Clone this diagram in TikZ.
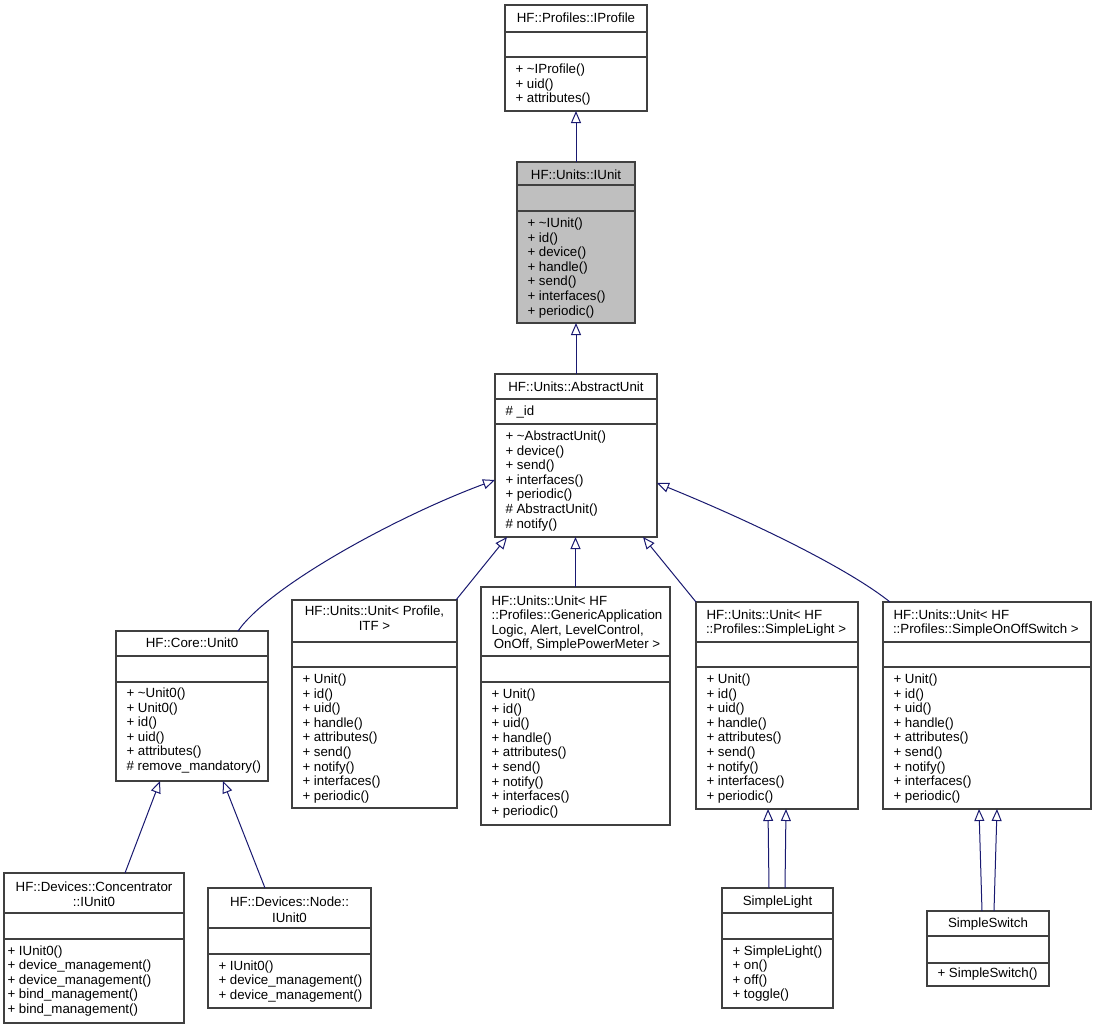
\documentclass[tikz,border=0pt]{standalone}
\usepackage{fontspec}
\setmainfont{Liberation Sans}
\usetikzlibrary{arrows.meta}
\definecolor{edgeblue}{HTML}{191970}
\definecolor{boxgray}{HTML}{BFBFBF}
\definecolor{bordergray}{HTML}{404040}
\tikzset{
 box/.style={draw=bordergray, line width=1.2pt, inner sep=0pt, outer sep=0pt, rectangle, anchor=north west},
 sepline/.style={draw=bordergray, line width=1.2pt},
 txt/.style={inner sep=0pt, outer sep=0pt, font=\fontsize{13.3}{15}\selectfont, text=black},
 inh/.style={draw=edgeblue, line width=1pt, -{Triangle[open, length=12pt, width=10pt]}},
}
\newcommand\classbox[8]{%
 \node[box, fill=#8, minimum width={#4-#2}, minimum height={#5-#3}] (#1) at (#2,#3) {};
 \draw[sepline] (#2,#6) -- (#4,#6) (#2,#7) -- (#4,#7);}
\newcommand\members[4]{%
 \foreach \t [count=\i from 0] in {#4} {\node[txt, anchor=base west] (#1-\i) at (#2,{#3+\i*14.6}) {\t};}}
\begin{document}
\begin{tikzpicture}[x=1pt,y=-1pt]
\fill[white] (0,0) rectangle (1098,1029);
\useasboundingbox (0,0) rectangle (1098,1029);

% IProfile
\classbox{iprofile}{505}{5}{647}{111}{32}{57}{white}
\node[txt, anchor=base] (iprofile-t) at (576,22) {HF::Profiles::IProfile};
\members{iprofile}{515.5}{73.5}{+ \textasciitilde IProfile(), + uid(), + attributes()}

% IUnit
\classbox{iunit}{517}{162}{635}{323}{185}{211}{boxgray}
\node[txt, anchor=base] (iunit-t) at (576,179) {HF::Units::IUnit};
\members{iunit}{527.5}{227.5}{+ \textasciitilde IUnit(), + id(), + device(), + handle(), + send(), + interfaces(), + periodic()}

% AbstractUnit
\classbox{abstract}{495}{374}{657}{537}{399}{424}{white}
\node[txt, anchor=base] (abstract-t) at (576,391) {HF::Units::AbstractUnit};
\node[txt, anchor=base west] (abstract-a) at (505.5,415) {\# \_id};
\members{abstract}{505.5}{440.5}{+ \textasciitilde AbstractUnit(), + device(), + send(), + interfaces(), + periodic(), \# AbstractUnit(), \# notify()}

% Unit0
\classbox{unit0}{116}{631}{268}{781}{656}{682}{white}
\node[txt, anchor=base] (unit0-t) at (192,647) {HF::Core::Unit0};
\members{unit0}{126.5}{697.5}{+ \textasciitilde Unit0(), + Unit0(), + id(), + uid(), + attributes(), \# remove\_mandatory()}

% Unit< Profile, ITF >
\classbox{profitf}{292}{600}{457}{808}{642}{667}{white}
\node[txt, anchor=base] (profitf-t1) at (374.5,615) {HF::Units::Unit< Profile,};
\node[txt, anchor=base] (profitf-t2) at (374.5,630) {ITF >};
\members{profitf}{302.5}{683.5}{+ Unit(), + id(), + uid(), + handle(), + attributes(), + send(), + notify(), + interfaces(), + periodic()}

% Generic
\classbox{generic}{481}{587}{670}{825}{656}{682}{white}
\node[txt, anchor=base west] (generic-t1) at (491.5,605) {HF::Units::Unit< HF};
\node[txt, anchor=base] (generic-t2) at (577,619.5) {::Profiles::GenericApplication};
\node[txt, anchor=base west] (generic-t3) at (491.5,634) {Logic, Alert, LevelControl,};
\node[txt, anchor=base] (generic-t4) at (577,648.5) {OnOff, SimplePowerMeter >};
\members{generic}{491.5}{698.5}{+ Unit(), + id(), + uid(), + handle(), + attributes(), + send(), + notify(), + interfaces(), + periodic()}

% Unit< SimpleLight >
\classbox{slunit}{696}{602}{858}{809}{642}{667}{white}
\node[txt, anchor=base west] (slunit-t1) at (706.5,619) {HF::Units::Unit< HF};
\node[txt, anchor=base west] (slunit-t2) at (706,633.5) {::Profiles::SimpleLight >};
\members{slunit}{706.5}{683.5}{+ Unit(), + id(), + uid(), + handle(), + attributes(), + send(), + notify(), + interfaces(), + periodic()}

% Unit< SimpleOnOffSwitch >
\classbox{swunit}{883}{602}{1091}{809}{642}{667}{white}
\node[txt, anchor=base west] (swunit-t1) at (893.5,619) {HF::Units::Unit< HF};
\node[txt, anchor=base west] (swunit-t2) at (893,633.5) {::Profiles::SimpleOnOffSwitch >};
\members{swunit}{893.5}{683.5}{+ Unit(), + id(), + uid(), + handle(), + attributes(), + send(), + notify(), + interfaces(), + periodic()}

% Concentrator::IUnit0
\classbox{conc}{4}{873}{184}{1023}{913}{939}{white}
\node[txt, anchor=base] (conc-t1) at (94,891) {HF::Devices::Concentrator};
\node[txt, anchor=base] (conc-t2) at (94,906.5) {::IUnit0};
\members{conc}{7.5}{955}{+ IUnit0(), + device\_management(), + device\_management(), + bind\_management(), + bind\_management()}

% Node::IUnit0
\classbox{nodeiu}{208}{888}{371}{1008}{928}{954}{white}
\node[txt, anchor=base] (nodeiu-t1) at (289.5,906.5) {HF::Devices::Node::};
\node[txt, anchor=base] (nodeiu-t2) at (289.5,922) {IUnit0};
\members{nodeiu}{218.5}{970}{+ IUnit0(), + device\_management(), + device\_management()}

% SimpleLight
\classbox{slight}{722}{888}{833}{1008}{913}{939}{white}
\node[txt, anchor=base] (slight-t) at (777.5,905) {SimpleLight};
\members{slight}{732.5}{955}{+ SimpleLight(), + on(), + off(), + toggle()}

% SimpleSwitch
\classbox{sswitch}{927}{911}{1049}{986}{936}{963}{white}
\node[txt, anchor=base] (sswitch-t) at (988,927.5) {SimpleSwitch};
\members{sswitch}{937.5}{977.5}{+ SimpleSwitch()}

% inheritance edges
\draw[inh] (iunit.north) -- (iprofile.south);
\draw[inh] (abstract.north) -- (iunit.south);
\draw[inh] (generic.north) -- (generic.north |- abstract.south);
\draw[inh] ([xshift=122pt]unit0.north west) .. controls (270,585) and (400,515) .. ([yshift=-24.5pt]abstract.west);
\draw[inh] ([xshift=-1pt]profitf.north east) -- ([xshift=12pt]abstract.south west);
\draw[inh] (slunit.north west) -- ([xshift=-14pt]abstract.south east);
\draw[inh] ([xshift=7pt]swunit.north west) .. controls (850,570) and (760,525) .. ([yshift=-27.5pt]abstract.east);
\draw[inh] ([xshift=121pt]conc.north west) -- ([xshift=44pt]unit0.south west);
\draw[inh] ([xshift=57pt]nodeiu.north west) -- ([xshift=107pt]unit0.south west);
\draw[inh] ([xshift=47pt]slight.north west) -- ([xshift=72pt]slunit.south west);
\draw[inh] ([xshift=63pt]slight.north west) -- ([xshift=90pt]slunit.south west);
\draw[inh] ([xshift=55pt]sswitch.north west) -- ([xshift=96pt]swunit.south west);
\draw[inh] ([xshift=67pt]sswitch.north west) -- ([xshift=114pt]swunit.south west);
\end{tikzpicture}
\end{document}
